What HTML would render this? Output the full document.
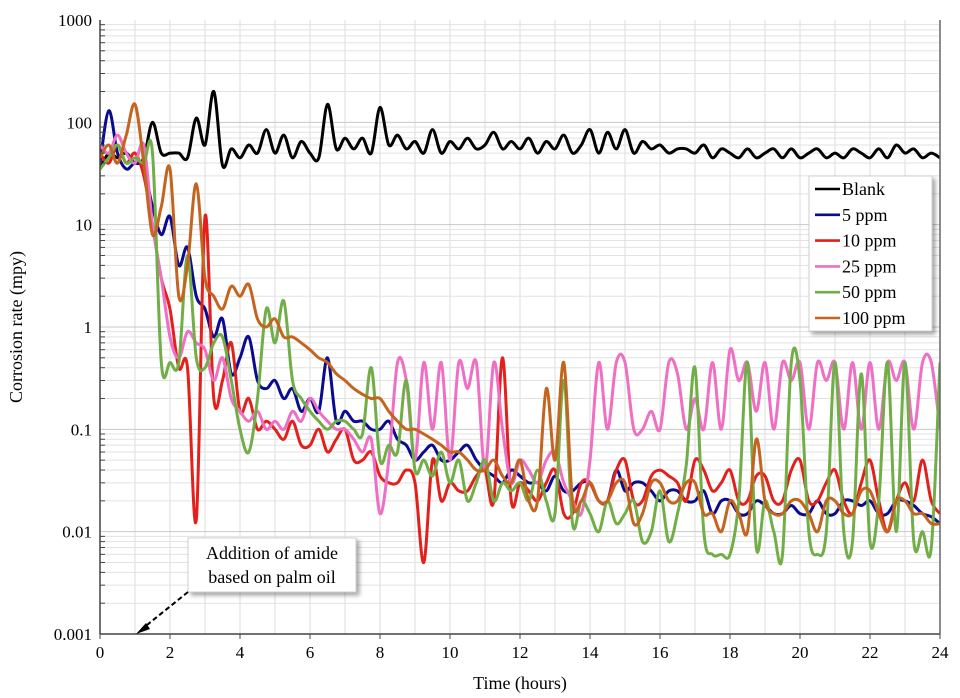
<!DOCTYPE html>
<html><head><meta charset="utf-8"><style>
body{margin:0;background:#fff;}
svg{display:block;font-family:"Liberation Serif",serif;}
</style></head><body>
<svg id="chart" width="960" height="698" viewBox="0 0 960 698">
<defs><clipPath id="clip"><rect x="100" y="20" width="840" height="614"/></clipPath>
<filter id="sh" x="-10%" y="-10%" width="130%" height="130%"><feDropShadow dx="3" dy="3" stdDeviation="2" flood-color="#000" flood-opacity="0.35"/></filter></defs>
<g id="grid"></g>
<g id="series" clip-path="url(#clip)"></g>
<g id="axes"></g>
<text x="520" y="689" font-size="18" text-anchor="middle">Time (hours)</text>
<text transform="translate(22,327) rotate(-90)" font-size="18" text-anchor="middle">Corrosion rate (mpy)</text>
<g>
<rect x="809" y="176" width="123" height="155" fill="#fff" stroke="#d0d0d0" filter="url(#sh)"/>
<g id="legend"></g>
</g>
<g>
<rect x="188" y="538" width="168" height="54" fill="#fff" stroke="#d0d0d0" filter="url(#sh)"/>
<text x="272" y="559" font-size="18" text-anchor="middle">Addition of amide</text>
<text x="272" y="583" font-size="18" text-anchor="middle">based on palm oil</text>
<line x1="188" y1="592" x2="142" y2="629" stroke="#000" stroke-width="2" stroke-dasharray="5,3"/>
<polygon points="136,634 146,623 150,629" fill="#000"/>
</g>
</svg>
<script>
const tStep = 0.25;
const seriesNames = ["Blank","5 ppm","10 ppm","25 ppm","50 ppm","100 ppm"];
const seriesColors = ["#000000","#0b0b8f","#e3201b","#ef6fc4","#72ae48","#c4651f"];
const xTicks = [0,2,4,6,8,10,12,14,16,18,20,22,24];
const yTicks = [0.001,0.01,0.1,1,10,100,1000];
const yTickLabels = ["0.001","0.01","0.1","1","10","100","1000"];
const blank = [35,50,45,50,40,45,100,50,50,50,45,110,60,200,38,55,45,60,50,85,50,75,45,65,50,45,150,55,70,55,70,50,140,60,75,55,65,50,85,50,65,55,70,55,60,80,55,65,55,70,50,65,55,75,50,60,85,50,80,55,85,50,65,55,60,50,55,55,50,60,45,55,50,45,55,45,50,55,45,55,45,50,55,45,50,45,55,50,45,55,45,60,50,55,45,50,45];
const ppm5 = [40,130,50,35,40,35,15,8,12,4,6,2,1.5,0.8,1.2,0.35,0.5,0.8,0.3,0.25,0.3,0.2,0.25,0.15,0.2,0.15,0.5,0.12,0.15,0.12,0.12,0.1,0.1,0.12,0.08,0.07,0.05,0.06,0.07,0.05,0.05,0.06,0.07,0.05,0.04,0.035,0.03,0.04,0.035,0.03,0.03,0.025,0.035,0.025,0.025,0.03,0.03,0.02,0.02,0.04,0.025,0.03,0.03,0.025,0.02,0.025,0.025,0.02,0.02,0.025,0.015,0.02,0.02,0.015,0.015,0.02,0.018,0.015,0.015,0.018,0.015,0.015,0.02,0.015,0.015,0.02,0.02,0.018,0.02,0.015,0.015,0.02,0.02,0.018,0.015,0.014,0.012];
const ppm10 = [50,40,60,40,50,30,10,3,1.5,0.4,0.4,0.013,12,0.2,0.3,0.7,0.15,0.2,0.1,0.12,0.1,0.08,0.12,0.07,0.07,0.1,0.06,0.08,0.1,0.05,0.05,0.06,0.035,0.03,0.03,0.04,0.03,0.005,0.05,0.02,0.03,0.025,0.025,0.035,0.04,0.02,0.5,0.02,0.03,0.025,0.02,0.03,0.04,0.015,0.015,0.03,0.03,0.02,0.02,0.04,0.05,0.02,0.02,0.035,0.04,0.035,0.03,0.02,0.05,0.04,0.025,0.03,0.04,0.02,0.02,0.035,0.035,0.02,0.02,0.04,0.05,0.02,0.02,0.03,0.04,0.02,0.015,0.03,0.05,0.02,0.01,0.02,0.03,0.02,0.05,0.02,0.015];
const ppm25 = [60,50,75,50,40,60,10,3,0.8,0.5,0.9,0.7,0.6,0.3,0.5,0.2,0.15,0.12,0.15,0.1,0.12,0.1,0.15,0.12,0.2,0.15,0.12,0.1,0.1,0.08,0.06,0.08,0.015,0.05,0.45,0.3,0.05,0.45,0.1,0.45,0.05,0.45,0.25,0.45,0.04,0.45,0.1,0.03,0.05,0.04,0.03,0.05,0.06,0.03,0.02,0.015,0.05,0.45,0.1,0.45,0.45,0.1,0.1,0.15,0.1,0.45,0.35,0.1,0.2,0.1,0.45,0.1,0.6,0.3,0.45,0.15,0.45,0.1,0.45,0.3,0.45,0.1,0.45,0.3,0.45,0.1,0.45,0.1,0.45,0.1,0.45,0.3,0.45,0.1,0.45,0.45,0.1];
const ppm50 = [35,45,60,40,45,40,50,0.45,0.45,0.45,5,0.5,0.4,0.7,0.8,0.3,0.1,0.06,0.2,1.5,0.7,1.8,0.3,0.2,0.15,0.12,0.1,0.12,0.12,0.1,0.09,0.4,0.05,0.07,0.06,0.3,0.04,0.05,0.035,0.06,0.03,0.05,0.02,0.03,0.05,0.02,0.03,0.025,0.03,0.02,0.04,0.02,0.015,0.3,0.012,0.02,0.015,0.01,0.02,0.012,0.015,0.02,0.008,0.01,0.025,0.008,0.015,0.045,0.4,0.01,0.006,0.006,0.006,0.02,0.45,0.007,0.02,0.01,0.006,0.45,0.3,0.01,0.006,0.01,0.45,0.01,0.008,0.35,0.008,0.02,0.45,0.01,0.45,0.008,0.01,0.007,0.45];
const ppm100 = [45,60,40,75,150,40,8,15,35,2,4,25,3,2,1.5,2.5,2,2.6,1.2,1.0,1.2,0.8,0.8,0.7,0.6,0.5,0.45,0.35,0.3,0.25,0.22,0.2,0.2,0.15,0.12,0.1,0.1,0.09,0.08,0.07,0.06,0.06,0.05,0.04,0.04,0.05,0.035,0.03,0.05,0.02,0.02,0.25,0.05,0.45,0.02,0.02,0.03,0.02,0.02,0.03,0.03,0.012,0.015,0.03,0.03,0.02,0.02,0.03,0.03,0.015,0.015,0.01,0.02,0.015,0.01,0.08,0.02,0.015,0.015,0.02,0.02,0.015,0.01,0.02,0.02,0.015,0.015,0.025,0.025,0.015,0.01,0.02,0.02,0.015,0.015,0.012,0.012];
const allSeries = [blank,ppm5,ppm10,ppm25,ppm50,ppm100];

const X0=100,X1=940,Y0=634,Y1=20;
function xs(t){return X0+(t-0)/(24-0)*(X1-X0);}
function ys(v){return Y0-(Math.log10(v)+3)/6*(Y0-Y1);}
const NS="http://www.w3.org/2000/svg";
function mk(tag,attrs,parent){const e=document.createElementNS(NS,tag);for(const k in attrs)e.setAttribute(k,attrs[k]);parent.appendChild(e);return e;}
const grid=document.getElementById('grid'),axes=document.getElementById('axes'),sg=document.getElementById('series'),lg=document.getElementById('legend');
for(let h=1;h<24;h++){const l=mk('line',{x1:xs(h),x2:xs(h),y1:Y1,y2:Y0,stroke:'#dcdcdc','stroke-width':1},grid);

}
for(let d=-3;d<3;d++){for(let m=1;m<10;m++){const v=m*Math.pow(10,d);const y=ys(v);
const l=mk('line',{x1:X0,x2:X1,y1:y,y2:y,stroke:m===1?'#c8c8c8':'#e2e2e2','stroke-width':1},grid);


const tk=mk('line',{x1:X0,x2:X0+(m===1?0:5),y1:y,y2:y,stroke:'#444','stroke-width':1},axes);

}}
const ax1=mk('line',{x1:X0,x2:X0,y1:Y1,y2:Y0,stroke:'#444','stroke-width':1.5},axes);


const ax2=mk('line',{x1:X0,x2:X1,y1:Y0,y2:Y0,stroke:'#444','stroke-width':1.5},axes);


const ax3=mk('line',{x1:X1,x2:X1,y1:Y1,y2:Y0,stroke:'#666','stroke-width':1.5},axes);


yTicks.forEach((v,i)=>{const t=mk('text',{x:X0-8,y:ys(v)+6,'font-size':17,'text-anchor':'end'},axes);t.textContent=yTickLabels[i];

});
xTicks.forEach(h=>{const t=mk('text',{x:xs(h),y:Y0+24,'font-size':17,'text-anchor':'middle'},axes);t.textContent=String(h);


const tk=mk('line',{x1:xs(h),x2:xs(h),y1:Y0,y2:Y0+5,stroke:'#444'},axes);

});
function smoothPath(pts){let d='M'+pts[0][0].toFixed(1)+','+pts[0][1].toFixed(1);
for(let i=0;i<pts.length-1;i++){const p0=pts[Math.max(i-1,0)],p1=pts[i],p2=pts[i+1],p3=pts[Math.min(i+2,pts.length-1)];
const c1x=p1[0]+(p2[0]-p0[0])/6,c1y=p1[1]+(p2[1]-p0[1])/6,c2x=p2[0]-(p3[0]-p1[0])/6,c2y=p2[1]-(p3[1]-p1[1])/6;
d+=' C'+c1x.toFixed(1)+','+c1y.toFixed(1)+' '+c2x.toFixed(1)+','+c2y.toFixed(1)+' '+p2[0].toFixed(1)+','+p2[1].toFixed(1);}
return d;}
const sNames=['series-blank','series-5ppm','series-10ppm','series-25ppm','series-50ppm','series-100ppm'];
allSeries.forEach((arr,si)=>{const pts=arr.map((v,i)=>[xs(i*tStep),ys(v)]);
const p=mk('path',{d:smoothPath(pts),fill:'none',stroke:seriesColors[si],'stroke-width':3,'stroke-linejoin':'round'},sg);

});
seriesNames.forEach((n,i)=>{const y=189+i*25.8;
const l=mk('line',{x1:815,x2:840,y1:y,y2:y,stroke:seriesColors[i],'stroke-width':2.6},lg);


const t=mk('text',{x:842,y:y+6,'font-size':18},lg);t.textContent=n;

});
</script>
</body></html>
